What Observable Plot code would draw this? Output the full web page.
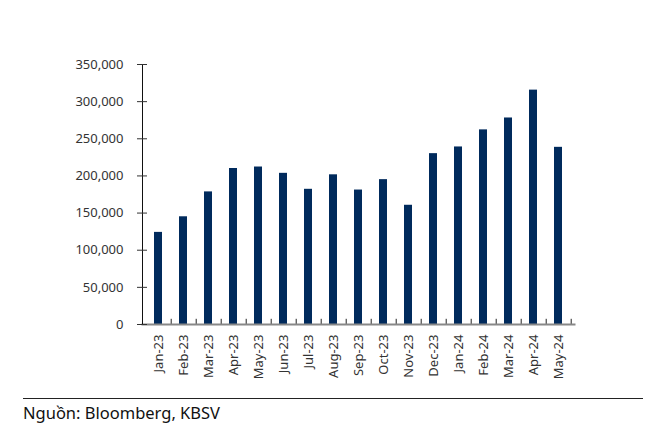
<!DOCTYPE html>
<html>
<head>
<meta charset="utf-8">
<script src="https://cdn.jsdelivr.net/npm/d3@7"></script>
<script src="https://cdn.jsdelivr.net/npm/@observablehq/plot@0.6"></script>
<style>
  body { margin: 0; background: #fff; font-family: "Noto Sans", sans-serif; }
  #chart svg { display: block; }
  #caption { margin-left: 23px; width: 620px; border-top: 1.5px solid #222; padding-top: 2px;
             font-family: "Noto Sans", sans-serif; font-size: 16.5px; color: #111; }
</style>
</head>
<body>
<div id="chart"></div>
<div id="caption">Nguồn: Bloomberg, KBSV</div>
<script>
const months = ["Jan-23","Feb-23","Mar-23","Apr-23","May-23","Jun-23","Jul-23","Aug-23","Sep-23","Oct-23","Nov-23","Dec-23","Jan-24","Feb-24","Mar-24","Apr-24","May-24"];
const values = [124000,145000,178500,210000,212000,203500,182000,201500,181000,195000,160500,230000,239000,262000,278000,315500,238500];
const yTicks = [0,50000,100000,150000,200000,250000,300000,350000];

const data = months.map((m, i) => ({month: m, value: values[i]}));
const fmt = d3.format(",");

const chart = Plot.plot({
  width: 662,
  height: 398,
  marginTop: 64,
  marginBottom: 74,
  marginLeft: 142,
  marginRight: 88,
  style: {fontFamily: "Noto Sans, sans-serif", fontSize: "13px", color: "#333"},
  x: {domain: months, paddingInner: 0.69, paddingOuter: 0.345, label: null},
  y: {domain: [0, 350000], label: null},
  marks: [
    Plot.barY(data, {x: "month", y: "value", fill: "#002a5c"}),
    Plot.ruleX(months, {x: d => d, dx: 12.7, y1: 0, y2: 7000, stroke: "#222", strokeWidth: 1}),
    Plot.frame({anchor: "bottom", stroke: "#888", strokeWidth: 2}),
    Plot.frame({anchor: "left", stroke: "#111", strokeWidth: 1}),
    Plot.axisY({ticks: yTicks, tickFormat: fmt, tickSize: 10, dx: 5, tickPadding: 14, stroke: "#333", fill: "#333"}),
    Plot.axisX({tickSize: 0, tickRotate: -90, tickPadding: 10, fill: "#333"})
  ]
});
document.getElementById("chart").appendChild(chart);
</script>
</body>
</html>
